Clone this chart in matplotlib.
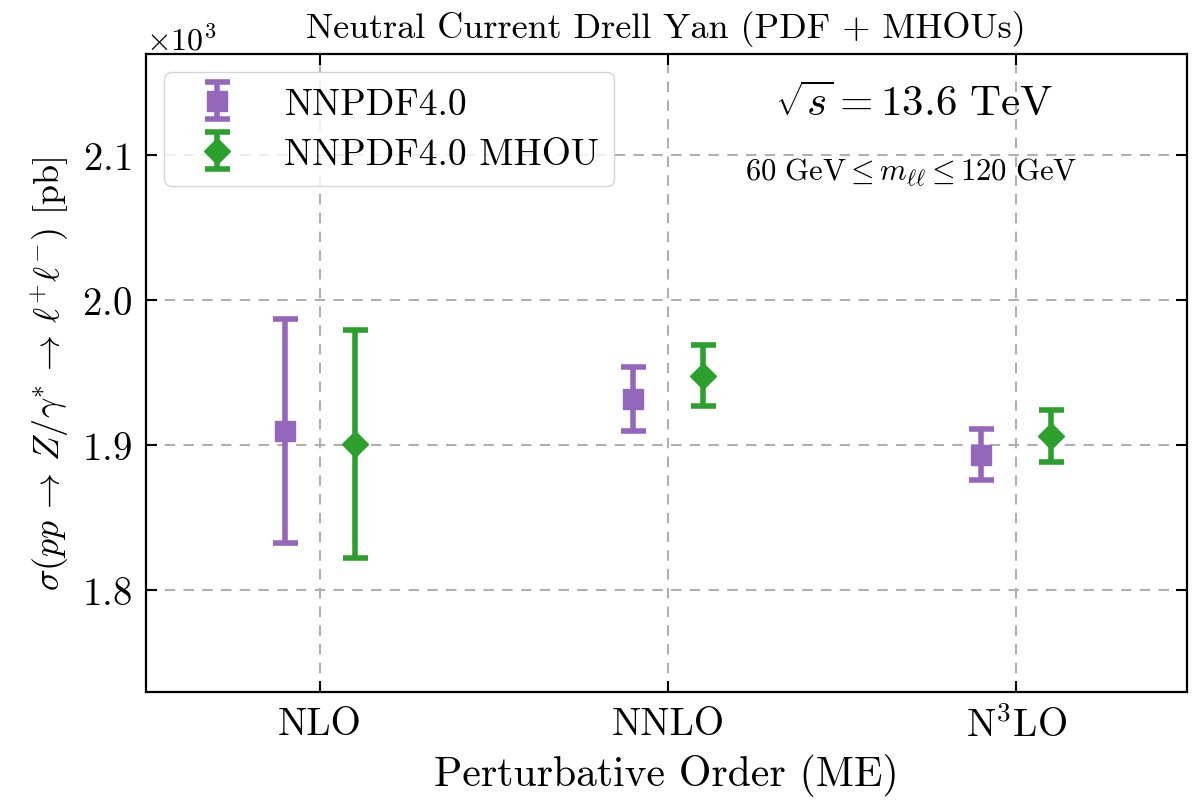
import numpy as np
import matplotlib
matplotlib.use('Agg')
import matplotlib.pyplot as plt

plt.rcParams['font.family'] = 'serif'
plt.rcParams['font.serif'] = ['cmr10']
plt.rcParams['mathtext.fontset'] = 'cm'
plt.rcParams['axes.formatter.use_mathtext'] = True

orders = ['NLO', 'NNLO', r'N$^3$LO']
# cross sections in pb
nnpdf = [1910.0, 1932.0, 1893.5]
nnpdf_err = [77.0, 22.0, 17.5]
mhou = [1901.0, 1948.0, 1906.5]
mhou_err = [78.5, 21.0, 18.0]

purple = '#9467bd'
green = '#2ca02c'

x = np.arange(len(orders))
fig, ax = plt.subplots(figsize=(11.94, 8.04), dpi=100)

ax.errorbar(x - 0.1, nnpdf, yerr=nnpdf_err, fmt='s', color=purple, ms=14,
            elinewidth=4, capsize=9, capthick=4, label='NNPDF4.0', zorder=3)
ax.errorbar(x + 0.1, mhou, yerr=mhou_err, fmt='D', color=green, ms=13,
            elinewidth=4, capsize=9, capthick=4, label='NNPDF4.0 MHOU', zorder=3)

ax.set_xticks(x)
ax.set_xticklabels(orders)
ax.set_xlim(-0.5, 2.49)
ax.set_ylim(1730, 2170)
ax.set_yticks([1800, 1900, 2000, 2100])
ax.ticklabel_format(axis='y', style='sci', scilimits=(3, 3), useMathText=True)
ax.yaxis.get_offset_text().set_fontsize(23)

ax.grid(True, linestyle='--', color='#b0b0b0', linewidth=1.5, dashes=(5, 4))
ax.set_axisbelow(True)
ax.tick_params(direction='in', top=True, right=True, length=8, width=1.5,
               labelsize=28, pad=10)
for s in ax.spines.values():
    s.set_linewidth(1.6)

ax.set_xlabel('Perturbative Order (ME)', fontsize=30, labelpad=6)
ax.set_ylabel(r'$\sigma(pp\,{\rightarrow}\,Z/\gamma^{*}\,{\rightarrow}\,\ell^{+}\ell^{-})$ [pb]',
              fontsize=26, labelpad=8)
ax.set_title('Neutral Current Drell Yan (PDF + MHOUs)', fontsize=26, pad=12)

ax.text(0.738, 0.922, r'$\sqrt{s} = 13.6\ \mathrm{TeV}$', transform=ax.transAxes,
        fontsize=31, ha='center', va='center')
ax.text(0.735, 0.814, r'$60\ \mathrm{GeV} \leq m_{\ell\ell} \leq 120\ \mathrm{GeV}$',
        transform=ax.transAxes, fontsize=22, ha='center', va='center')

ax.legend(loc='upper left', fontsize=27, borderpad=0.4, handletextpad=0.8,
          labelspacing=0.45, framealpha=0.8)

plt.subplots_adjust(left=0.122, right=0.994, top=0.932, bottom=0.138)
plt.savefig('out.png', dpi=100)
